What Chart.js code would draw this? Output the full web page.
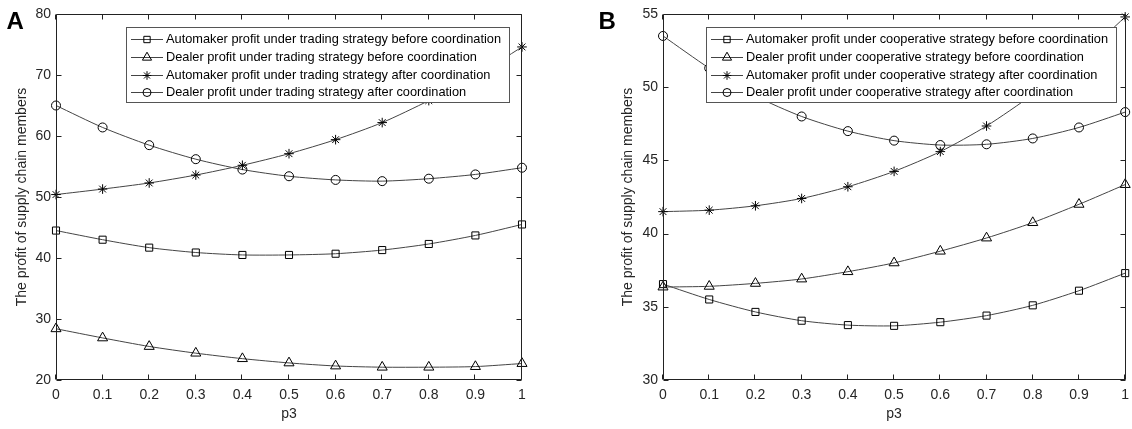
<!DOCTYPE html>
<html>
<head>
<meta charset="utf-8">
<script src="https://cdn.jsdelivr.net/npm/chart.js@4"></script>
<style>
  html, body { margin: 0; padding: 0; background: #fff; }
  #wrap { position: relative; width: 1132px; height: 429px; overflow: hidden; }
  .panel { position: absolute; top: 0; width: 566px; height: 429px; }
  #panelA { left: 0; }
  #panelB { left: 566px; }
</style>
</head>
<body>
<div id="wrap">
  <div class="panel" id="panelA"><canvas id="chartA" width="566" height="429"></canvas></div>
  <div class="panel" id="panelB"><canvas id="chartB" width="566" height="429"></canvas></div>
</div>
<script>
// x values and tick labels
const p3 = [0, 0.1, 0.2, 0.3, 0.4, 0.5, 0.6, 0.7, 0.8, 0.9, 1];
const xTickLabels = ['0', '0.1', '0.2', '0.3', '0.4', '0.5', '0.6', '0.7', '0.8', '0.9', '1'];
const yTicksA = [20, 30, 40, 50, 60, 70, 80];
const yTickLabelsA = ['20', '30', '40', '50', '60', '70', '80'];
const yTicksB = [30, 35, 40, 45, 50, 55];
const yTickLabelsB = ['30', '35', '40', '45', '50', '55'];

// panel A: trading strategy
const labelsA = [
  'Automaker profit under trading strategy before coordination',
  'Dealer profit under trading strategy before coordination',
  'Automaker profit under trading strategy after coordination',
  'Dealer profit under trading strategy after coordination'
];
const automakerTradingBefore = [44.5, 43.0, 41.7, 40.9, 40.5, 40.5, 40.7, 41.3, 42.3, 43.7, 45.5];
const dealerTradingBefore    = [28.4, 26.9, 25.5, 24.4, 23.5, 22.8, 22.3, 22.1, 22.1, 22.2, 22.7];
const automakerTradingAfter  = [50.4, 51.3, 52.3, 53.6, 55.2, 57.1, 59.4, 62.2, 65.8, 69.8, 74.6];
const dealerTradingAfter     = [65.0, 61.4, 58.5, 56.2, 54.5, 53.4, 52.8, 52.6, 53.0, 53.7, 54.8];

// panel B: cooperative strategy
const labelsB = [
  'Automaker profit under cooperative strategy before coordination',
  'Dealer profit under cooperative strategy before coordination',
  'Automaker profit under cooperative strategy after coordination',
  'Dealer profit under cooperative strategy after coordination'
];
const automakerCoopBefore = [36.55, 35.5, 34.65, 34.05, 33.75, 33.7, 33.95, 34.4, 35.1, 36.1, 37.3];
const dealerCoopBefore    = [36.35, 36.4, 36.6, 36.9, 37.4, 38.0, 38.8, 39.7, 40.75, 42.0, 43.35];
const automakerCoopAfter  = [41.5, 41.6, 41.9, 42.4, 43.2, 44.25, 45.6, 47.35, 49.5, 51.9, 54.8];
const dealerCoopAfter     = [53.5, 51.3, 49.4, 48.0, 47.0, 46.35, 46.05, 46.1, 46.5, 47.25, 48.3];

const markers = [
  { pointStyle: 'rect', radius: 5.0 },
  { pointStyle: 'triangle', radius: 5.8 },
  { pointStyle: 'star', radius: 4.8 },
  { pointStyle: 'circle', radius: 4.5 }
];

const FONT = '"Liberation Sans", Arial, Helvetica, sans-serif';
const AXIS_COLOR = '#222';
const TEXT_COLOR = '#262626';

function toDatasets(labels, series) {
  return series.map((vals, i) => ({
    label: labels[i],
    data: vals.map((v, j) => ({ x: p3[j], y: v })),
    borderColor: '#444',
    borderWidth: 1,
    pointStyle: markers[i].pointStyle,
    pointRadius: markers[i].radius,
    pointBorderColor: '#000',
    pointBackgroundColor: 'rgba(0,0,0,0)',
    pointBorderWidth: 1,
    tension: 0.25,
    clip: false
  }));
}

// box, inward ticks on all four sides, panel letter
const framePlugin = {
  id: 'frame',
  afterDatasetsDraw(chart) {
    const { ctx, chartArea: a, scales: { x, y } } = chart;
    const L = Math.floor(a.left) + 0.5, R = Math.ceil(a.right) - 0.5;
    const T = Math.floor(a.top) + 0.5, B = Math.ceil(a.bottom) - 0.5;
    ctx.save();
    ctx.strokeStyle = AXIS_COLOR;
    ctx.lineWidth = 1;
    ctx.beginPath();
    ctx.rect(L, T, R - L, B - T);
    x.ticks.forEach(t => {
      const px = Math.round(x.getPixelForValue(t.value)) - 0.5;
      ctx.moveTo(px, B); ctx.lineTo(px, B - 5);
      ctx.moveTo(px, T); ctx.lineTo(px, T + 5);
    });
    y.ticks.forEach(t => {
      const py = Math.round(y.getPixelForValue(t.value)) + 0.5;
      ctx.moveTo(L, py); ctx.lineTo(L + 5, py);
      ctx.moveTo(R, py); ctx.lineTo(R - 5, py);
    });
    ctx.stroke();
    ctx.restore();
  },
  afterDraw(chart) {
    const o = chart.options.plugins.frame;
    const ctx = chart.ctx;
    ctx.save();
    ctx.fillStyle = '#000';
    ctx.font = 'bold 24px ' + FONT;
    ctx.textBaseline = 'alphabetic';
    ctx.textAlign = 'left';
    ctx.fillText(o.letter, o.letterX, 28.5);
    ctx.restore();
  }
};

// legend drawn inside the axes, like the original
const boxLegend = {
  id: 'boxLegend',
  afterDraw(chart) {
    const o = chart.options.plugins.boxLegend;
    const ctx = chart.ctx;
    ctx.save();
    ctx.font = '12.8px ' + FONT;
    const sets = chart.data.datasets;
    const maxW = Math.max(...sets.map(d => ctx.measureText(d.label).width));
    const w = Math.round(40 + maxW + 8);
    ctx.fillStyle = '#fff';
    ctx.fillRect(o.x, o.y, w, o.h);
    ctx.strokeStyle = '#555';
    ctx.lineWidth = 1;
    ctx.strokeRect(o.x + 0.5, o.y + 0.5, w, o.h);
    sets.forEach((d, i) => {
      const cy = Math.round(o.y + 12.3 + i * 17.7) + 0.5;
      ctx.strokeStyle = d.borderColor;
      ctx.beginPath();
      ctx.moveTo(o.x + 5, cy); ctx.lineTo(o.x + 37, cy);
      ctx.stroke();
      ctx.strokeStyle = '#000';
      ctx.fillStyle = 'rgba(0,0,0,0)';
      Chart.helpers.drawPoint(ctx, {
        pointStyle: d.pointStyle, radius: d.pointRadius - 0.5, borderWidth: 1, rotation: 0
      }, o.x + 21, cy);
      ctx.fillStyle = '#000';
      ctx.textBaseline = 'middle';
      ctx.textAlign = 'left';
      ctx.fillText(d.label, o.x + 40, cy);
    });
    ctx.restore();
  }
};

function makeChart(id, datasets, cfg) {
  return new Chart(document.getElementById(id), {
    type: 'line',
    data: { datasets },
    plugins: [framePlugin, boxLegend],
    options: {
      responsive: false,
      animation: false,
      devicePixelRatio: 1,
      layout: { padding: { left: 0, right: cfg.padRight, top: 14, bottom: 0 } },
      plugins: {
        legend: { display: false },
        tooltip: { enabled: false },
        frame: { letter: cfg.letter, letterX: cfg.letterX },
        boxLegend: { x: cfg.legendX, y: 27, h: 75 }
      },
      scales: {
        x: {
          type: 'linear',
          min: 0,
          max: 1,
          afterBuildTicks: s => { s.ticks = p3.map(v => ({ value: v })); },
          afterFit: s => { s.height = 49; s.paddingLeft = 0; s.paddingRight = 0; },
          grid: { display: false, drawTicks: false },
          border: { display: false },
          ticks: {
            callback: (v, i) => xTickLabels[i],
            autoSkip: false,
            maxRotation: 0,
            padding: 7,
            color: TEXT_COLOR,
            font: { family: FONT, size: 14 }
          },
          title: {
            display: true,
            text: 'p3',
            color: TEXT_COLOR,
            font: { family: FONT, size: 14 },
            padding: { top: 0, bottom: 6 }
          }
        },
        y: {
          type: 'linear',
          min: cfg.yTicks[0],
          max: cfg.yTicks[cfg.yTicks.length - 1],
          afterBuildTicks: s => { s.ticks = cfg.yTicks.map(v => ({ value: v })); },
          afterFit: s => { s.width = cfg.yWidth; s.paddingTop = 0; s.paddingBottom = 0; },
          grid: { display: false, drawTicks: false },
          border: { display: false },
          ticks: {
            callback: (v, i) => cfg.yLabels[i],
            padding: 5,
            color: TEXT_COLOR,
            font: { family: FONT, size: 14 }
          },
          title: {
            display: true,
            text: 'The profit of supply chain members',
            color: TEXT_COLOR,
            font: { family: FONT, size: 14 },
            padding: { top: cfg.yTitlePad, bottom: 0 }
          }
        }
      }
    }
  });
}

makeChart('chartA',
  toDatasets(labelsA, [automakerTradingBefore, dealerTradingBefore, automakerTradingAfter, dealerTradingAfter]),
  { padRight: 44, yWidth: 56, yTicks: yTicksA, yLabels: yTickLabelsA, yTitlePad: 13.5,
    letter: 'A', letterX: 6.5, legendX: 126 });

makeChart('chartB',
  toDatasets(labelsB, [automakerCoopBefore, dealerCoopBefore, automakerCoopAfter, dealerCoopAfter]),
  { padRight: 1, yWidth: 97, yTicks: yTicksB, yLabels: yTickLabelsB, yTitlePad: 54,
    letter: 'B', letterX: 32.5, legendX: 140 });
</script>
</body>
</html>
